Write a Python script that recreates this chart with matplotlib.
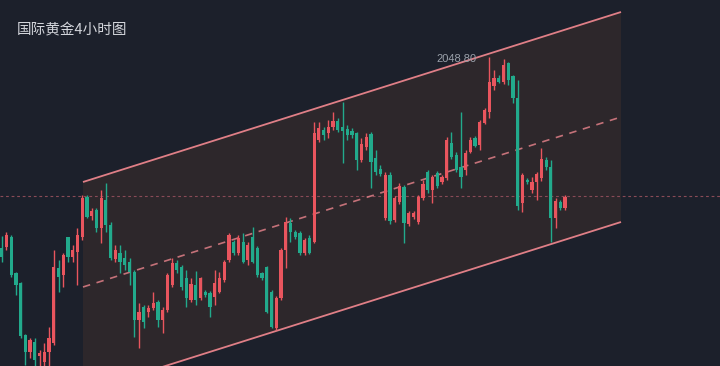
import numpy as np
import matplotlib
matplotlib.use("Agg")
import matplotlib.pyplot as plt

# ---------------- data (4h candles) ----------------
opens = [2010.6, 2010.8, 2012.8, 2005.6, 2003.6, 1993.2, 1989.8, 1991.8, 1989.0, 1987.8,
         1989.8, 1991.6, 2006.6, 2005.2, 2012.8, 2008.8, 2009.8, 2012.8, 2020.8, 2017.0,
         2018.2, 2014.6, 2020.2, 2015.2, 2008.4, 2009.6, 2008.6, 2007.8, 2005.8, 1996.2,
         1998.8, 1997.8, 1998.6, 1999.8, 1996.2, 1998.2, 2003.2, 2007.6, 2006.8, 2004.6,
         2000.2, 2003.2, 2000.6, 2001.8, 2001.6, 2000.8, 2001.8, 2004.2, 2008.2, 2011.8,
         2009.6, 2011.8, 2008.2, 2012.8, 2010.6, 2005.6, 2006.8, 2001.8, 1994.6, 2000.6,
         2010.2, 2015.6, 2013.8, 2013.6, 2009.6, 2012.6, 2011.8, 2032.2, 2034.2, 2033.6,
         2034.8, 2036.0, 2034.8, 2034.4, 2034.0, 2033.6, 2028.2, 2030.8, 2033.4, 2028.6,
         2026.4, 2016.6, 2025.2, 2016.2, 2019.8, 2022.8, 2015.4, 2016.8, 2015.8, 2020.6,
         2025.8, 2022.2, 2025.6, 2023.8, 2024.6, 2031.6, 2029.2, 2026.8, 2026.2, 2029.8,
         2032.6, 2031.2, 2035.6, 2037.8, 2043.0, 2044.6, 2043.8, 2047.6, 2045.0, 2040.6,
         2019.6, 2024.2, 2022.2, 2023.8, 2024.6, 2028.2, 2026.8, 2016.6, 2019.8, 2018.6]
closes = [2008.8, 2013.2, 2005.2, 2003.2, 1993.0, 1989.8, 1992.2, 1988.2, 1989.6, 1989.8,
          1992.6, 2006.8, 2004.8, 2009.2, 2008.8, 2010.2, 2013.2, 2020.6, 2016.8, 2018.0,
          2014.6, 2020.6, 2015.2, 2008.6, 2010.2, 2007.8, 2007.2, 2005.8, 1996.2, 1997.8,
          1995.8, 1998.6, 1999.6, 1996.2, 1998.2, 2005.2, 2007.6, 2006.2, 2002.8, 2000.6,
          2003.4, 2000.2, 2004.6, 2001.2, 1998.8, 2003.6, 2004.6, 2007.8, 2013.2, 2009.6,
          2012.6, 2007.8, 2011.2, 2007.8, 2005.2, 2004.6, 1997.8, 1994.8, 2000.6, 2010.2,
          2015.8, 2013.8, 2012.8, 2009.6, 2012.2, 2009.6, 2033.6, 2034.6, 2033.2, 2034.8,
          2036.0, 2034.2, 2034.0, 2033.2, 2033.2, 2028.2, 2031.4, 2032.8, 2027.8, 2025.8,
          2025.4, 2025.2, 2016.0, 2020.6, 2023.0, 2015.6, 2017.6, 2017.6, 2020.8, 2023.4,
          2022.2, 2024.8, 2023.0, 2024.8, 2032.2, 2028.8, 2026.2, 2024.8, 2029.6, 2032.2,
          2031.0, 2035.8, 2038.2, 2043.8, 2044.6, 2043.8, 2047.2, 2044.2, 2040.6, 2019.0,
          2025.2, 2023.8, 2023.8, 2025.4, 2028.4, 2026.8, 2016.6, 2020.0, 2018.6, 2020.8]
highs = [2013.0, 2013.8, 2013.2, 2005.8, 2003.8, 1993.4, 1992.6, 1992.6, 1990.2, 1991.6,
         1994.8, 2010.2, 2008.2, 2009.6, 2012.8, 2011.2, 2014.6, 2021.2, 2021.2, 2018.6,
         2018.6, 2022.2, 2023.6, 2015.8, 2011.2, 2011.2, 2010.2, 2008.6, 2006.2, 1999.6,
         1999.2, 1999.2, 2001.8, 2000.2, 1998.8, 2005.6, 2008.6, 2008.2, 2007.2, 2006.2,
         2004.6, 2006.0, 2004.8, 2002.2, 2002.0, 2006.2, 2005.8, 2008.2, 2013.6, 2012.2,
         2013.2, 2013.6, 2011.8, 2014.8, 2011.0, 2005.8, 2007.0, 2002.2, 2001.0, 2010.6,
         2016.8, 2016.6, 2014.2, 2014.0, 2012.6, 2013.2, 2035.8, 2035.8, 2034.8, 2036.2,
         2037.8, 2036.6, 2039.8, 2035.2, 2034.6, 2033.8, 2032.6, 2033.6, 2033.8, 2030.2,
         2027.2, 2025.8, 2025.8, 2021.0, 2023.6, 2023.2, 2018.0, 2018.0, 2021.2, 2024.2,
         2026.2, 2025.2, 2026.0, 2025.2, 2032.8, 2033.8, 2029.8, 2037.8, 2030.2, 2032.8,
         2033.0, 2036.2, 2038.6, 2048.8, 2046.2, 2045.2, 2048.4, 2047.8, 2045.2, 2044.2,
         2025.6, 2024.6, 2024.8, 2025.8, 2030.6, 2028.8, 2028.2, 2020.6, 2020.2, 2021.2]
lows = [2007.8, 2010.2, 2004.8, 2001.2, 1992.6, 1987.2, 1988.6, 1987.0, 1987.0, 1987.0,
        1987.0, 1991.2, 2001.8, 2002.8, 2007.8, 2007.8, 2003.2, 2012.2, 2016.6, 2016.2,
        2013.8, 2011.6, 2013.8, 2008.2, 2007.8, 2005.6, 2006.2, 2003.2, 1992.8, 1990.6,
        1994.6, 1996.8, 1998.2, 1994.8, 1993.6, 1997.8, 2002.8, 2005.6, 2002.2, 1998.8,
        1999.8, 1999.2, 2000.2, 2000.8, 1996.8, 1999.2, 2001.6, 2003.8, 2007.8, 2009.2,
        2009.2, 2007.6, 2007.2, 2007.6, 2004.8, 2004.2, 1997.6, 1994.6, 1994.2, 2000.2,
        2006.6, 2011.8, 2012.4, 2009.2, 2009.2, 2009.4, 2011.6, 2031.8, 2032.2, 2032.6,
        2034.2, 2033.8, 2027.6, 2032.2, 2032.6, 2026.2, 2027.8, 2030.2, 2022.6, 2025.2,
        2025.0, 2016.2, 2015.4, 2015.8, 2019.4, 2011.6, 2015.0, 2016.4, 2015.4, 2020.2,
        2021.6, 2019.6, 2022.6, 2023.4, 2024.2, 2028.4, 2025.8, 2022.6, 2025.2, 2029.6,
        2030.8, 2030.2, 2035.4, 2036.6, 2042.2, 2043.6, 2043.4, 2043.2, 2039.6, 2018.2,
        2017.8, 2023.4, 2021.6, 2020.2, 2024.0, 2026.2, 2011.8, 2014.6, 2018.2, 2018.2]

title_text = "国际黄金4小时图"
peak_label = "2048.80"
ref_price = 2021.0                 # horizontal dashed price line
channel_x = [17.17, 130.82]        # candle-index positions of channel ends
channel_upper = [2023.8, 2057.8]
channel_lower = [1981.8, 2015.8]

# ---------------- style ----------------
BG = "#1c202b"
FILL = "#2d272b"
UP = "#e9555e"
DOWN = "#22aa8c"
LINE = "#e07f87"

fig = plt.figure(figsize=(7.2, 3.66), dpi=100, facecolor=BG)
ax = fig.add_axes([0, 0, 1, 1])
ax.set_axis_off()
ax.set_xlim(-0.359, 151.73)
ax.set_ylim(1987.0, 2060.2)

o = np.array(opens); c = np.array(closes)
h = np.array(highs); l = np.array(lows)
x = np.arange(len(o))

# channel fill
cx = np.array(channel_x)
up = np.array(channel_upper)
lo = np.array(channel_lower)
mid = (up + lo) / 2
ax.fill([cx[0], cx[1], cx[1], cx[0]], [up[0], up[1], lo[1], lo[0]],
        color=FILL, zorder=0, lw=0)

# reference price line
ax.axhline(ref_price, color="#8a4b57", lw=0.8, ls=(0, (2.5, 2.5)), zorder=1)

# channel lines
ax.plot(cx, up, color=LINE, lw=1.3, zorder=2, solid_capstyle="butt")
ax.plot(cx, lo, color=LINE, lw=1.3, zorder=2, solid_capstyle="butt")
ax.plot(cx, mid, color=LINE, lw=1.2, zorder=2, ls=(0, (4.5, 4)), alpha=0.85)

# candles
colors = np.where(c >= o, UP, DOWN)
ax.vlines(x, l, h, colors=colors, lw=1.0, zorder=3)
bottoms = np.minimum(o, c)
heights = np.maximum(np.abs(c - o), 0.3)
ax.bar(x, heights, bottom=bottoms, width=0.68, color=colors, lw=0, zorder=4)

# peak label
peak_i = int(np.argmax(h))
ax.annotate(peak_label, xy=(peak_i, h[peak_i]), xytext=(-9, -1.5),
            textcoords="offset points", ha="right", va="center",
            fontsize=8, color="#9aa0aa", family=["Liberation Sans", "DejaVu Sans"])

# title
fig.text(17 / 720, 1 - 30 / 366, title_text, ha="left", va="center",
         fontsize=10.5, color="#d3d5db",
         family=["Noto Sans CJK SC", "DejaVu Sans"])

fig.savefig("out.png", dpi=100, facecolor=BG)
